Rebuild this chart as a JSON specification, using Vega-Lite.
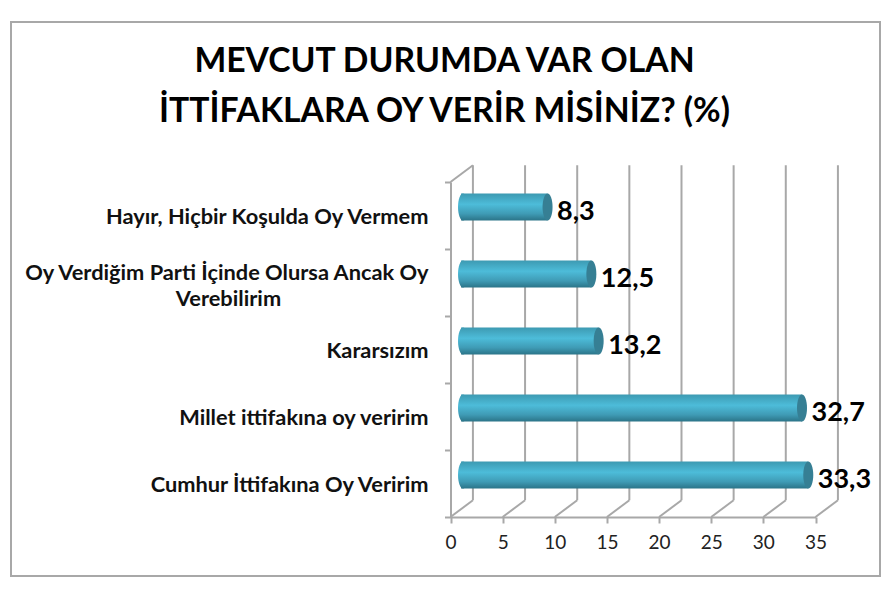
{
  "$schema": "https://vega.github.io/schema/vega-lite/v6.json",
  "description": "Mevcut durumda var olan ittifaklara oy verir misiniz",
  "width": 869,
  "height": 554,
  "padding": {"left": 11, "top": 22, "right": 11, "bottom": 13},
  "autosize": {"type": "none"},
  "background": "white",
  "view": {"fill": "white", "stroke": "#a8a8a8", "strokeWidth": 2},
  "title": {
    "text": ["MEVCUT DURUMDA VAR OLAN", "İTTİFAKLARA OY VERİR MİSİNİZ? (%)"],
    "font": "Lato",
    "fontSize": 33.7,
    "fontWeight": "bold",
    "color": "#000000",
    "lineHeight": 50,
    "anchor": "middle",
    "dx": -1,
    "offset": -107
  },
  "datasets": {
    "oylar": [
      {"kategori": "Hayır, Hiçbir Koşulda Oy Vermem", "oran": 8.3, "etiket": "8,3", "sira": 4.5, "baslangic": 0},
      {"kategori": "Oy Verdiğim Parti İçinde Olursa Ancak Oy Verebilirim", "oran": 12.5, "etiket": "12,5", "sira": 3.5, "baslangic": 0},
      {"kategori": "Kararsızım", "oran": 13.2, "etiket": "13,2", "sira": 2.5, "baslangic": 0},
      {"kategori": "Millet ittifakına oy veririm", "oran": 32.7, "etiket": "32,7", "sira": 1.5, "baslangic": 0},
      {"kategori": "Cumhur İttifakına Oy Veririm", "oran": 33.3, "etiket": "33,3", "sira": 0.5, "baslangic": 0}
    ],
    "izgara": [
      {"x": 0, "xArka": 2.15, "y": 0, "yArka": 0.25, "yUst": 5.25},
      {"x": 5, "xArka": 7.15, "y": 0, "yArka": 0.25, "yUst": 5.25},
      {"x": 10, "xArka": 12.15, "y": 0, "yArka": 0.25, "yUst": 5.25},
      {"x": 15, "xArka": 17.15, "y": 0, "yArka": 0.25, "yUst": 5.25},
      {"x": 20, "xArka": 22.15, "y": 0, "yArka": 0.25, "yUst": 5.25},
      {"x": 25, "xArka": 27.15, "y": 0, "yArka": 0.25, "yUst": 5.25},
      {"x": 30, "xArka": 32.15, "y": 0, "yArka": 0.25, "yUst": 5.25},
      {"x": 35, "xArka": 37.15, "y": 0, "yArka": 0.25, "yUst": 5.25}
    ]
  },
  "data": {"name": "oylar"},
  "config": {
    "axis": {"title": null, "grid": false, "domainColor": "#a8a8a8", "domainWidth": 2, "tickColor": "#a8a8a8", "tickWidth": 2, "tickSize": 6}
  },
  "layer": [
    {
      "data": {"name": "izgara"},
      "mark": {"type": "rule", "color": "#a8a8a8", "strokeWidth": 2},
      "encoding": {
        "x": {
          "field": "xArka",
          "type": "quantitative",
          "title": null,
          "scale": {"domain": [0, 35], "range": [439.5, 804.5], "nice": false, "zero": false, "padding": 0},
          "axis": {
            "values": [0, 5, 10, 15, 20, 25, 30, 35],
            "offset": -59,
            "labelFont": "Lato",
            "labelFontSize": 19,
            "labelColor": "#222222",
            "labelPadding": 10,
            "labelFlush": false,
            "labelOverlap": false
          }
        },
        "y": {
          "field": "yArka",
          "type": "quantitative",
          "title": null,
          "scale": {"domain": [0, 5], "range": [495, 160], "nice": false, "zero": false, "padding": 0},
          "axis": {
            "values": [0, 1, 2, 3, 4, 5],
            "labels": false,
            "offset": -439.5
          }
        },
        "y2": {"field": "yUst"}
      }
    },
    {
      "data": {"name": "izgara"},
      "mark": {"type": "rule", "color": "#a8a8a8", "strokeWidth": 2},
      "encoding": {
        "x": {"field": "x", "type": "quantitative", "title": null},
        "x2": {"field": "xArka"},
        "y": {"field": "y", "type": "quantitative", "title": null},
        "y2": {"field": "yArka"}
      }
    },
    {
      "data": {"values": [{"x": 0, "xArka": 2.15, "y": 5, "yArka": 5.25}]},
      "mark": {"type": "rule", "color": "#a8a8a8", "strokeWidth": 2},
      "encoding": {
        "x": {"field": "x", "type": "quantitative", "title": null},
        "x2": {"field": "xArka"},
        "y": {"field": "y", "type": "quantitative", "title": null},
        "y2": {"field": "yArka"}
      }
    },
    {
      "mark": {
        "type": "bar",
        "orient": "horizontal",
        "size": 27,
        "xOffset": 10.5,
        "x2Offset": 10.5,
        "yOffset": -8.5,
        "color": {
          "gradient": "linear",
          "x1": 0, "y1": 0, "x2": 0, "y2": 1,
          "stops": [
            {"offset": 0, "color": "#3d9ab2"},
            {"offset": 0.4, "color": "#4dbcd9"},
            {"offset": 0.75, "color": "#3f9bb5"},
            {"offset": 1, "color": "#2b7488"}
          ]
        }
      },
      "encoding": {
        "x": {"field": "baslangic", "type": "quantitative", "title": null},
        "x2": {"field": "oran"},
        "y": {"field": "sira", "type": "quantitative", "title": null}
      }
    },
    {
      "mark": {
        "type": "point",
        "filled": true,
        "opacity": 1,
        "size": 729,
        "shape": "M-0.37,0A0.37,1,0,1,1,0.37,0A0.37,1,0,1,1,-0.37,0Z",
        "xOffset": 12.5,
        "yOffset": -8.5,
        "color": {
          "gradient": "linear",
          "x1": 0, "y1": 0, "x2": 0, "y2": 1,
          "stops": [
            {"offset": 0, "color": "#3d9ab2"},
            {"offset": 0.4, "color": "#4dbcd9"},
            {"offset": 0.75, "color": "#3f9bb5"},
            {"offset": 1, "color": "#2b7488"}
          ]
        }
      },
      "encoding": {
        "x": {"field": "baslangic", "type": "quantitative", "title": null},
        "y": {"field": "sira", "type": "quantitative", "title": null}
      }
    },
    {
      "mark": {
        "type": "point",
        "filled": true,
        "opacity": 1,
        "size": 729,
        "shape": "M-0.37,0A0.37,1,0,1,1,0.37,0A0.37,1,0,1,1,-0.37,0Z",
        "xOffset": 10.5,
        "yOffset": -8.5,
        "color": "#367f94"
      },
      "encoding": {
        "x": {"field": "oran", "type": "quantitative", "title": null},
        "y": {"field": "sira", "type": "quantitative", "title": null}
      }
    },
    {
      "mark": {
        "type": "text",
        "align": "left",
        "baseline": "middle",
        "font": "Lato",
        "fontSize": 27,
        "fontWeight": "bold",
        "color": "#000000",
        "dx": 20,
        "dy": -3.5
      },
      "encoding": {
        "x": {"field": "oran", "type": "quantitative", "title": null},
        "y": {"field": "sira", "type": "quantitative", "title": null},
        "text": {"field": "etiket"}
      }
    },
    {
      "data": {
        "values": [
          {"metin": "Hayır, Hiçbir Koşulda Oy Vermem", "x": 0, "y": 4.5},
          {"metin": "Oy Verdiğim Parti İçinde Olursa Ancak Oy", "x": 0, "y": 3.66},
          {"metin": "Kararsızım", "x": 0, "y": 2.5},
          {"metin": "Millet ittifakına oy veririm", "x": 0, "y": 1.5},
          {"metin": "Cumhur İttifakına Oy Veririm", "x": 0, "y": 0.5}
        ]
      },
      "mark": {
        "type": "text",
        "align": "right",
        "baseline": "middle",
        "font": "Lato",
        "fontSize": 21.8,
        "fontWeight": "bold",
        "color": "#111111",
        "dx": -22,
        "dy": 1.5
      },
      "encoding": {
        "x": {"field": "x", "type": "quantitative", "title": null},
        "y": {"field": "y", "type": "quantitative", "title": null},
        "text": {"field": "metin"}
      }
    },
    {
      "data": {"values": [{"metin": "Verebilirim", "x": 0, "y": 3.28}]},
      "mark": {
        "type": "text",
        "align": "center",
        "baseline": "middle",
        "font": "Lato",
        "fontSize": 21.8,
        "fontWeight": "bold",
        "color": "#111111",
        "dx": -222,
        "dy": 1.5
      },
      "encoding": {
        "x": {"field": "x", "type": "quantitative", "title": null},
        "y": {"field": "y", "type": "quantitative", "title": null},
        "text": {"field": "metin"}
      }
    }
  ]
}
